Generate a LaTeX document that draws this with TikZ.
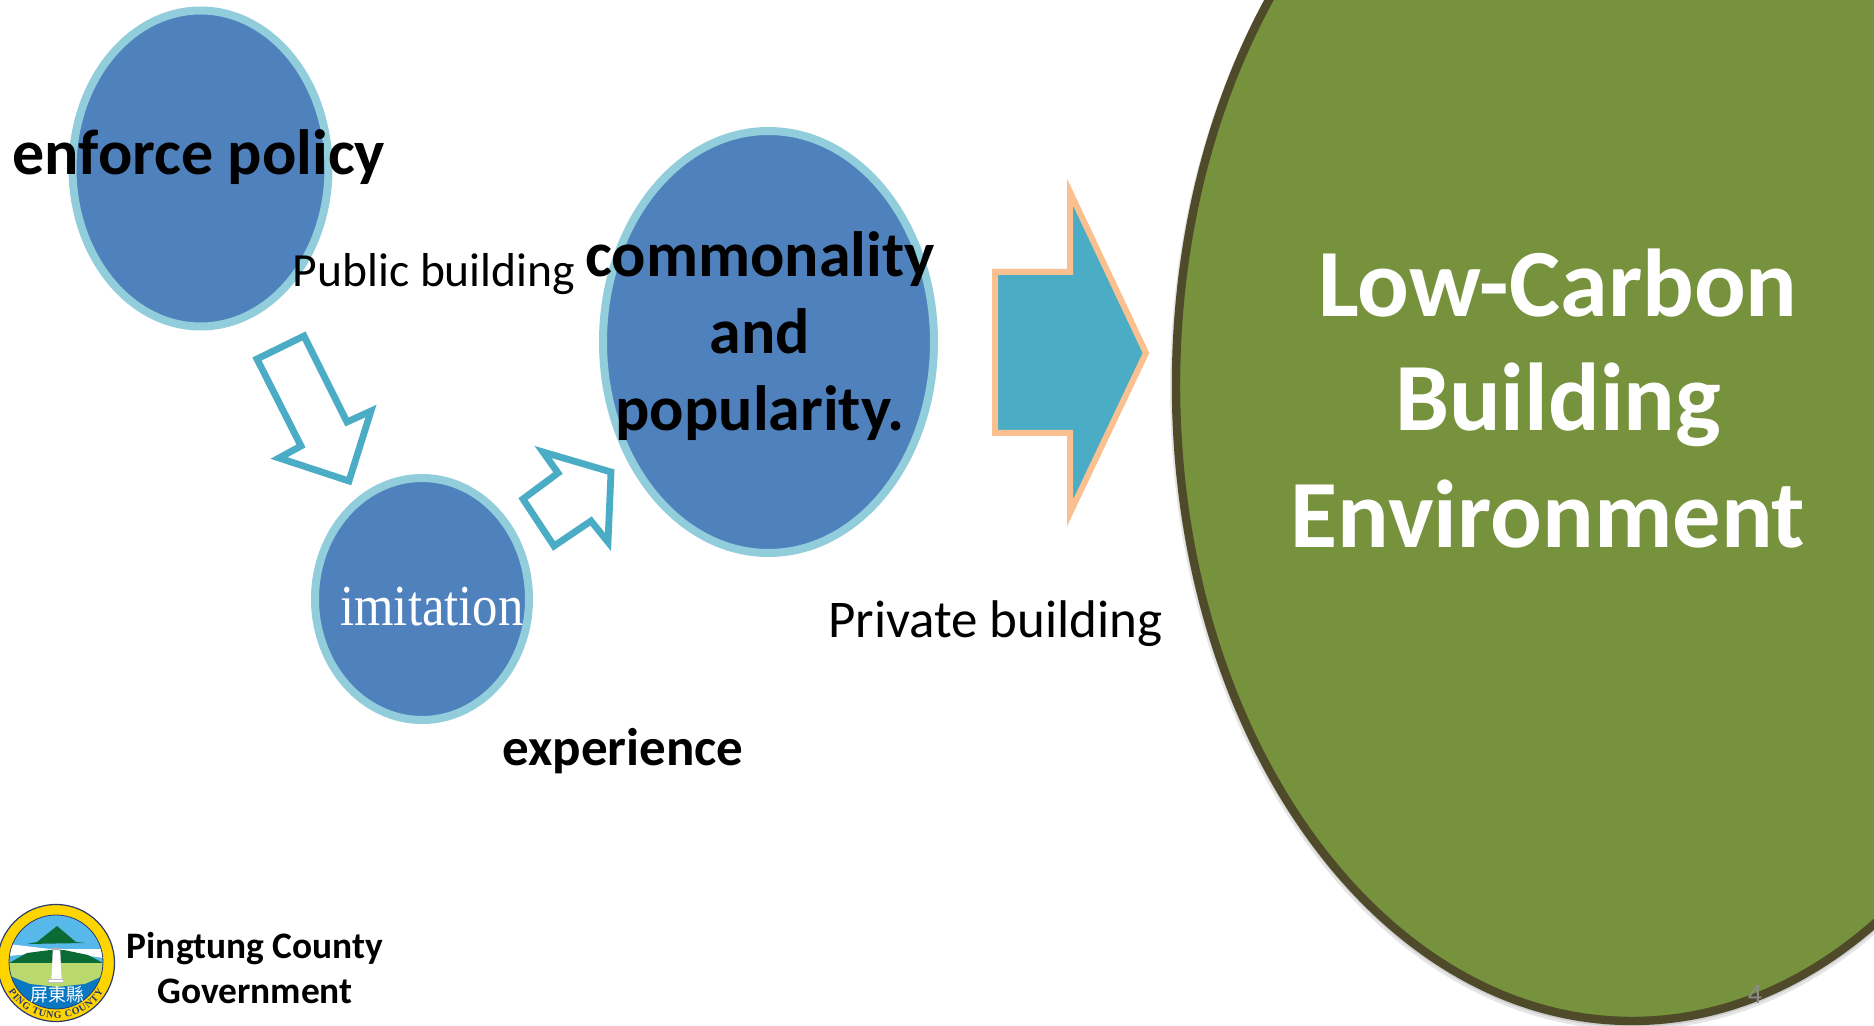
\documentclass[tikz,border=0pt]{standalone}
\usepackage{fontspec}
\setmainfont{Carlito}
\newfontfamily\serifim[FakeStretch=0.875]{Liberation Serif}
\newfontfamily\serifbd{Liberation Serif}
\newfontfamily\cjkfont{Noto Sans CJK TC}
\usetikzlibrary{shapes.geometric,shadows,decorations.text}
\definecolor{bluefill}{HTML}{4F81BD}
\definecolor{ringblue}{HTML}{92CDDC}
\definecolor{teal}{HTML}{4BACC6}
\definecolor{peach}{HTML}{FAC090}
\definecolor{olive}{HTML}{76923C}
\definecolor{darkolive}{HTML}{4F4A2A}
\definecolor{logosky}{HTML}{57B8EA}
\definecolor{logogreen}{HTML}{0B6B35}
\definecolor{logoland}{HTML}{B9D96E}
\definecolor{logosea}{HTML}{0A78C0}
\definecolor{logoyellow}{HTML}{FFD500}
\definecolor{logonavy}{HTML}{2A3A70}
\tikzset{
  softshadow/.style={drop shadow={opacity=.22,shadow xshift=0pt,shadow yshift=-1.5pt,fill=black}},
  blueoval/.style={ellipse,draw=ringblue,line width=4pt,fill=bluefill,inner sep=0pt,minimum width=#1,softshadow},
  hollowarrow/.style={draw=teal,line width=3.4pt,fill=white,miter limit=10},
  solidarrow/.style={draw=peach,line width=3pt,fill=teal,miter limit=10},
  lbl/.style={anchor=base,inner sep=0pt,font=\fontsize{#1}{#1}\selectfont},
  blbl/.style={anchor=base,inner sep=0pt,font=\fontsize{#1}{#1}\selectfont\bfseries},
}
\begin{document}
\begin{tikzpicture}[x=0.5pt,y=-0.5pt]
\useasboundingbox (0,0) rectangle (1874,1026);
\clip (0,0) rectangle (1874,1026);
\fill[white] (0,0) rectangle (1874,1026);
% big oval
\fill[black,opacity=.10] (1632,388) ellipse [x radius=462,y radius=642];
\fill[black,opacity=.10] (1632,387) ellipse [x radius=460,y radius=640];
\draw[draw=darkolive,line width=4.2pt,fill=olive] (1632,385) ellipse [x radius=456,y radius=636];
% ovals
\node[blueoval=128pt,minimum height=158pt] (enforce) at (200.5,168.5) {};
\node[blueoval=107pt,minimum height=121pt] (imit) at (422,599) {};
\node[blueoval=165.5pt,minimum height=211pt] (common) at (768.5,342) {};
% hollow arrows
\draw[hollowarrow] (257,359)--(304,336)--(347,422)--(371,411)--(349,481)--(279,458)--(301,446)--cycle;
\draw[hollowarrow] (523,499)--(558,473)--(543,452)--(611,472)--(608,542)--(591,521)--(554,546)--cycle;
% solid arrow
\draw[solidarrow] (995,272)--(1070,272)--(1070,192)--(1146,353)--(1070,513)--(1070,433)--(995,433)--cycle;
% texts
\node[blbl=32] (t1) at (199,175) {enforce policy};
\node[lbl=23.8] (t2) at (434,287) {Public building};
\node[blbl=32] (t3) at (760,277) {commonality};
\node[blbl=32] (t4) at (760,354) {and};
\node[blbl=32] (t5) at (760,430) {popularity.};
\node[anchor=base,inner sep=0pt,text=white,font=\fontsize{29}{29}\serifim] (t6) at (432,625) {imitation};
\node[blbl=26.5] (t7) at (623,765) {experience};
\node[lbl=26.5] (t8) at (995.5,637) {Private building};
\node[blbl=48.2,text=white] (t9) at (1558,317) {Low-Carbon};
\node[blbl=48.2,text=white] (t10) at (1558,431) {Building};
\node[blbl=48.2,text=white] (t11) at (1548,547) {Environment};
\node[blbl=18.7] (t12) at (255,958) {Pingtung County};
\node[blbl=18.7] (t13) at (255,1003) {Government};
\node[anchor=base,inner sep=0pt,text=black!45,font=\fontsize{14}{14}\selectfont] (t14) at (1755,1003) {4};
% logo
\draw[draw=logonavy,line width=.6pt,fill=logoyellow] (56,963) circle [radius=58.5];
\begin{scope}
\clip (56,962) circle [radius=47];
\fill[logosky] (0,910) rectangle (110,1015);
\fill[logogreen] (57,926)--(76,942)--(85,943)--(27,944)--(37,942)--cycle;
\fill[white] (8,944)--(50,949)--(62,949)--(104,949)--(104,958)--(62,952)--(50,952)--(8,956)--cycle;
\fill[logogreen] (9,963)--(27,953)--(50,950)--(64,950)--(88,955)--(103,963)--cycle;
\fill[logoland] (0,963) rectangle (112,1015);
\fill[logosea] (0,972)--(30,984)--(57,987)--(85,984)--(112,972)--(112,1015)--(0,1015)--cycle;
\end{scope}
\draw[draw=logonavy,line width=.4pt] (56,962) circle [radius=47];
\fill[white,draw=black!25,line width=.2pt] (53,950)--(60,950)--(62,979)--(51,979)--cycle;
\fill[white,draw=black!25,line width=.2pt] (48,979) rectangle (63,982);
\fill[black!30] (52,948) rectangle (61,950);
\node[anchor=center,inner sep=0pt,text=white,font=\fontsize{9}{9}\cjkfont] (logoT) at (57,995) {屏東縣};
\path[decorate,decoration={text along path,text align={fit to path},text={|\fontsize{5}{5}\serifbd\bfseries\color{logonavy}|PING TUNG COUNTY}}]
  (8.5,991.7) arc[start angle=148,end angle=32,radius=56];
\end{tikzpicture}
\end{document}
